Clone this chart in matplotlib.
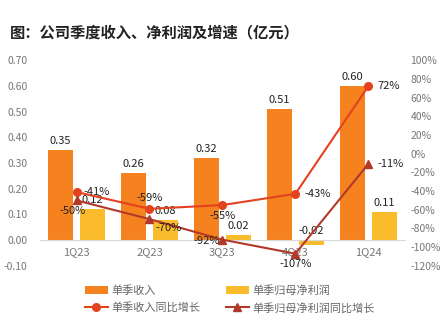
import numpy as np
import matplotlib.pyplot as plt

plt.rcParams['font.family'] = ['Noto Sans CJK SC', 'DejaVu Sans']

quarters = ['1Q23', '2Q23', '3Q23', '4Q23', '1Q24']
revenue = [0.35, 0.26, 0.32, 0.51, 0.60]
profit = [0.12, 0.08, 0.02, -0.02, 0.11]
rev_yoy = [-41, -59, -55, -43, 72]
profit_yoy = [-50, -70, -92, -107, -11]

c_rev = '#F5821F'
c_profit = '#FBBC2C'
c_rev_line = '#E4411E'
c_profit_line = '#B2382A'
c_tick = '#777777'

fig = plt.figure(figsize=(4.4, 3.25), dpi=100)
ax = fig.add_axes([0.091, 0.182, 0.829, 0.633])
ax2 = ax.twinx()

x = np.arange(len(quarters))
w = 0.34
off = 0.22
b1 = ax.bar(x - off, revenue, w, color=c_rev, label='单季收入')
b2 = ax.bar(x + off, profit, w, color=c_profit, label='单季归母净利润')

for i, v in enumerate(revenue):
    ax.text(x[i] - off, v + 0.015, '%.2f' % v, ha='center', va='bottom', fontsize=8, color='#222222')
for i, v in enumerate(profit):
    y = max(v, 0) + 0.015
    ax.text(x[i] + off, y, '%.2f' % v, ha='center', va='bottom', fontsize=8, color='#222222')

ax.set_xlim(-0.5, 4.5)
ax.set_ylim(-0.1, 0.7)
ax.set_yticks(np.arange(-0.1, 0.71, 0.1))
ax.set_yticklabels(['%.2f' % t for t in np.arange(-0.1, 0.71, 0.1)])
ax.set_xticks(x)
ax.set_xticklabels(quarters)

for a in (ax, ax2):
    for s in a.spines.values():
        s.set_visible(False)
    a.tick_params(length=0, labelsize=7.5, colors=c_tick)
# x轴放在0刻度线上
ax.spines['bottom'].set_visible(True)
ax.spines['bottom'].set_position(('data', 0))
ax.spines['bottom'].set_color('#d9d9d9')
ax.tick_params(axis='x', pad=5, labelsize=8)
ax.tick_params(axis='y', pad=9)
ax2.tick_params(axis='y', pad=4)

rv = np.array(rev_yoy) / 100
pv = np.array(profit_yoy) / 100
l1, = ax2.plot(x, rv, color=c_rev_line, lw=1.5, marker='o', ms=5.5, label='单季收入同比增长')
l2, = ax2.plot(x, pv, color=c_profit_line, lw=1.5, marker='^', ms=5.5, label='单季归母净利润同比增长')
ax2.set_ylim(-1.2, 1.0)
ax2.set_yticks(np.arange(-1.2, 1.01, 0.2))
ax2.set_yticklabels(['%d%%' % round(t * 100) for t in np.arange(-1.2, 1.01, 0.2)])

# 增速标注
rev_pos = [(0.1, 0.0, 'left', 'center'), (0.0, 0.06, 'center', 'bottom'),
           (0.0, -0.06, 'center', 'top'), (0.12, 0.0, 'left', 'center'),
           (0.12, 0.0, 'left', 'center')]
for i, v in enumerate(rev_yoy):
    dx, dy, ha, va = rev_pos[i]
    ax2.text(x[i] + dx, v / 100 + dy, '%d%%' % v, ha=ha, va=va, fontsize=8, color='#222222')
pro_pos = [(-0.05, -0.06, 'center', 'top'), (0.08, -0.04, 'left', 'top'),
           (-0.03, -0.01, 'right', 'center'), (0.0, -0.06, 'center', 'top'),
           (0.12, 0.0, 'left', 'center')]
for i, v in enumerate(profit_yoy):
    dx, dy, ha, va = pro_pos[i]
    ax2.text(x[i] + dx, v / 100 + dy, '%d%%' % v, ha=ha, va=va, fontsize=8, color='#222222')

fig.legend(handles=[b1, l1, b2, l2], loc='lower center', bbox_to_anchor=(0.522, 0.0),
           ncol=2, frameon=False, fontsize=8, labelcolor='#666666',
           handlelength=2.1, handletextpad=0.3, columnspacing=2.3, borderaxespad=0.65,
           labelspacing=0.6)

fig.text(0.023, 0.9, '图：公司季度收入、净利润及增速（亿元）', fontsize=11,
         fontweight='bold', color='#222222', va='center')

fig.savefig('out.png', dpi=100)
